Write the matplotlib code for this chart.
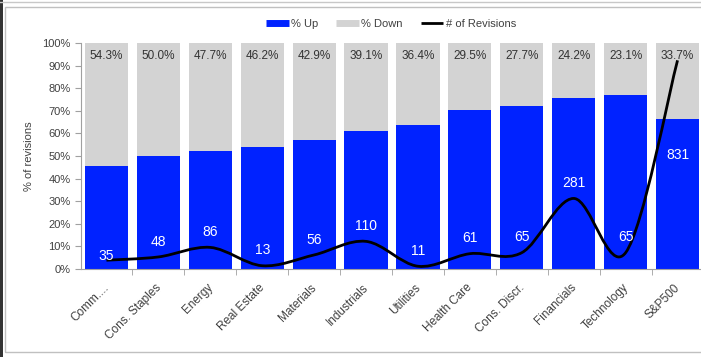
import matplotlib.pyplot as plt
from matplotlib.path import Path
from matplotlib.patches import PathPatch, Rectangle
from matplotlib.lines import Line2D
import matplotlib.transforms as mtransforms
import numpy as np

plt.rcParams['font.family'] = ['Liberation Sans', 'DejaVu Sans']

sectors = ["Comm....", "Cons. Staples", "Energy", "Real Estate", "Materials", "Industrials",
           "Utilities", "Health Care", "Cons. Discr.", "Financials", "Technology", "S&P500"]
pct_down = [54.3, 50.0, 47.7, 46.2, 42.9, 39.1, 36.4, 29.5, 27.7, 24.2, 23.1, 33.7]
pct_up = [100 - d for d in pct_down]
revisions = [35, 48, 86, 13, 56, 110, 11, 61, 65, 281, 65, 831]
# label offsets (points) from the line point
label_dy = [3, 11, 11, 11, 11, 11, 11, 11, 11, 11, 11, -68]

BLUE = "#0022ff"
GREY = "#d3d3d3"
TXT = "#404040"

fig = plt.figure(figsize=(7.01, 3.57), dpi=100)
ax = fig.add_axes([80.5 / 701, 88 / 357, 623 / 701, 226 / 357])
x = np.arange(len(sectors))

ax.bar(x, pct_up, width=0.83, color=BLUE, zorder=2)
ax.bar(x, pct_down, bottom=pct_up, width=0.83, color=GREY, zorder=2)

for xi, d in zip(x, pct_down):
    ax.text(xi, 94.3, f"{d:.1f}%", ha="center", va="center", fontsize=8.5, color="#333333", zorder=5)

ax.set_xlim(-0.5, len(sectors) - 0.5)
ax.set_ylim(0, 100)
ax.set_yticks(range(0, 101, 10))
ax.set_yticklabels([f"{v}%" for v in range(0, 101, 10)], fontsize=8, color=TXT)
ax.set_ylabel("% of revisions", fontsize=8, color=TXT, labelpad=6)

ax.set_xticks(x)
ax.set_xticklabels(sectors, rotation=45, ha="right", fontsize=8.5, color=TXT)
ax.set_xticks(x[:-1] + 0.5, minor=True)
ax.tick_params(axis="x", which="major", length=0, pad=9)
ax.tick_params(axis="x", which="minor", length=4, color="#a0a0a0")
ax.tick_params(axis="y", length=4, color="#a0a0a0", pad=3)
shift = mtransforms.ScaledTranslation(5 / 100, 0, fig.dpi_scale_trans)
for lbl in ax.get_xticklabels():
    lbl.set_transform(lbl.get_transform() + shift)
for side in ["top", "right"]:
    ax.spines[side].set_visible(False)
for side in ["left", "bottom"]:
    ax.spines[side].set_color("#a0a0a0")

# secondary axis for number of revisions
ax2 = ax.twinx()
ax2.set_ylim(0, 900)
ax2.axis("off")

# smoothed line (Catmull-Rom as cubic Bezier)
pts = np.column_stack([x, revisions]).astype(float)
verts = [pts[0]]
codes = [Path.MOVETO]
n = len(pts)
for i in range(n - 1):
    p0 = pts[max(i - 1, 0)]
    p1 = pts[i]
    p2 = pts[i + 1]
    p3 = pts[min(i + 2, n - 1)]
    c1 = p1 + (p2 - p0) / 6
    c2 = p2 - (p3 - p1) / 6
    verts += [c1, c2, p2]
    codes += [Path.CURVE4] * 3
ax2.add_patch(PathPatch(Path(verts, codes), facecolor="none", edgecolor="black", lw=2, zorder=3))

for xi, r, dy in zip(x, revisions, label_dy):
    ax2.annotate(str(r), (xi, r), xytext=(0, dy), textcoords="offset points",
                 ha="center", va="center", fontsize=10, color="white", zorder=6)

handles = [Line2D([], [], color=BLUE, lw=5, solid_capstyle="butt"),
           Line2D([], [], color=GREY, lw=5, solid_capstyle="butt"),
           Line2D([], [], color="black", lw=2, solid_capstyle="butt")]
fig.legend(handles, ["% Up", "% Down", "# of Revisions"], loc="center", bbox_to_anchor=(0.558, 0.933),
           ncol=3, frameon=False, fontsize=8, handlelength=2.0, handletextpad=0.25, columnspacing=1.6,
           labelcolor=TXT)

# outer frame
fig.add_artist(Rectangle((5 / 701, 5 / 357), 1.0, 345 / 357, transform=fig.transFigure,
                         facecolor="none", edgecolor="#c0c0c0", lw=1))
fig.add_artist(Rectangle((0, 0), 2.5 / 701, 1, transform=fig.transFigure,
                         facecolor="#333333", edgecolor="none"))
fig.add_artist(Line2D([0, 1], [355 / 357, 355 / 357], transform=fig.transFigure, color="#c8c8c8", lw=1))

fig.savefig("out.png", dpi=100)
